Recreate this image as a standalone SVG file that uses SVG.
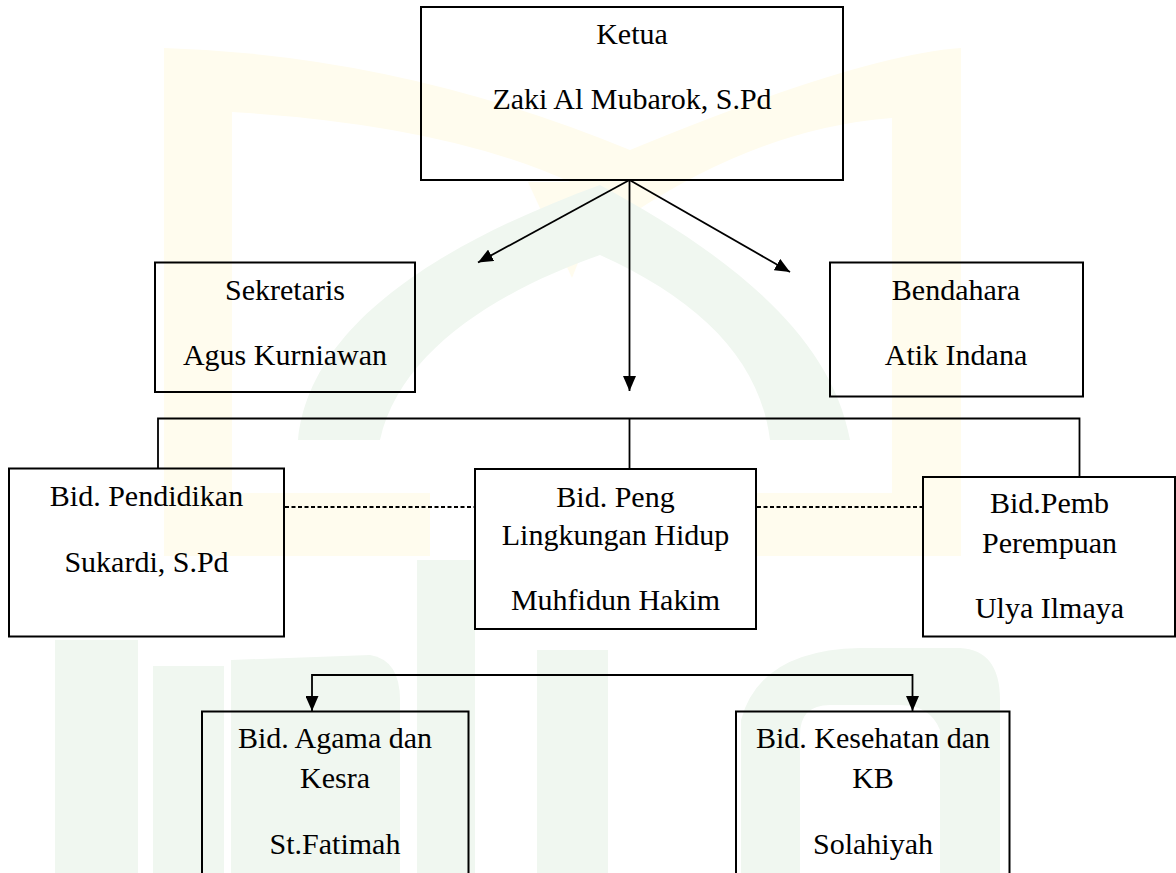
<svg xmlns="http://www.w3.org/2000/svg" width="1176" height="873" viewBox="0 0 1176 873">
  <defs>
    <style>
      .box { fill: none; stroke: #000; stroke-width: 2; }
      .lbl { font-family: "Liberation Serif", "Times New Roman", serif; font-size: 30px; fill: #000; text-anchor: middle; }
      .conn { fill: none; stroke: #000; stroke-width: 1.8; }
      .dot { fill: none; stroke: #000; stroke-width: 1.8; stroke-dasharray: 4 2.5; }
      .wy { fill: #fffcee; }
      .wg { fill: #f0f7f0; }
    </style>
    <marker id="arr" viewBox="0 0 15 13" markerWidth="15" markerHeight="13" refX="15" refY="6.5" orient="auto" markerUnits="userSpaceOnUse">
      <path d="M0,0 L15,6.5 L0,13 Z" fill="#000"/>
    </marker>
  </defs>
  <rect width="1176" height="873" fill="#fff"/>

  <g id="watermark">
    <path class="wy" fill-rule="evenodd" d="M164,48 Q400,55 630,150 Q860,55 961,48 L961,556 L756,556 L756,493 L892,493 L892,118 Q760,128 630,215 Q500,128 232,112 L232,493 L430,493 L430,556 L164,556 Z"/>
    <path class="wy" d="M528,182 L610,182 L572,278 Z"/>
    <path class="wg" fill-rule="evenodd" d="M298,440 C310,320 450,240 600,185 C720,250 830,330 850,440 Z M380,440 C400,350 500,290 600,255 C700,300 760,360 770,440 Z"/>
    <path class="wg" d="M55,640 L138,640 L138,873 L55,873 Z"/>
    <path class="wg" d="M153,666 L224,666 L224,873 L153,873 Z"/>
    <path class="wg" d="M231,660 L370,655 Q400,660 400,700 L400,873 L231,873 Z"/>
    <path class="wg" d="M417,560 L475,560 L475,873 L417,873 Z"/>
    <path class="wg" d="M537,650 L608,650 L608,873 L537,873 Z"/>
    <path class="wg" d="M741,873 L741,720 Q760,650 860,648 L960,648 Q1000,650 1000,700 L1000,873 L940,873 L940,730 Q930,705 900,705 L830,705 Q800,705 800,735 L800,873 Z"/>
  </g>

  <g id="connectors">
    <line class="conn" x1="629.5" y1="180" x2="478" y2="262.5" marker-end="url(#arr)"/>
    <line class="conn" x1="629.5" y1="180" x2="790" y2="272" marker-end="url(#arr)"/>
    <line class="conn" x1="629.5" y1="180" x2="629.5" y2="391" marker-end="url(#arr)"/>
    <path class="conn" d="M158,468.5 L158,418.5 L1079.5,418.5 L1079.5,476.7"/>
    <path class="conn" d="M629.5,418.5 L629.5,469"/>
    <line class="dot" x1="285" y1="507" x2="475" y2="507"/>
    <line class="dot" x1="757" y1="507" x2="923" y2="507"/>
    <path class="conn" d="M612,675 L312,675 L312,711" marker-end="url(#arr)"/>
    <path class="conn" d="M612,675 L912.5,675 L912.5,711" marker-end="url(#arr)"/>
  </g>

  <g id="ketua">
    <rect class="box" x="421" y="7" width="422" height="173"/>
    <text class="lbl" x="632" y="44">Ketua</text>
    <text class="lbl" x="632" y="109">Zaki Al Mubarok, S.Pd</text>
  </g>
  <g id="sekretaris">
    <rect class="box" x="155" y="262.5" width="260" height="129.5"/>
    <text class="lbl" x="285" y="300">Sekretaris</text>
    <text class="lbl" x="285" y="365">Agus Kurniawan</text>
  </g>
  <g id="bendahara">
    <rect class="box" x="830" y="262.5" width="253" height="134"/>
    <text class="lbl" x="956" y="300">Bendahara</text>
    <text class="lbl" x="956" y="365">Atik Indana</text>
  </g>
  <g id="pendidikan">
    <rect class="box" x="9" y="468.5" width="275" height="168"/>
    <text class="lbl" x="146.5" y="506">Bid. Pendidikan</text>
    <text class="lbl" x="146.5" y="572">Sukardi, S.Pd</text>
  </g>
  <g id="lingkungan">
    <rect class="box" x="475" y="469" width="281" height="160"/>
    <text class="lbl" x="615.5" y="507">Bid. Peng</text>
    <text class="lbl" x="615.5" y="545">Lingkungan Hidup</text>
    <text class="lbl" x="615.5" y="610">Muhfidun Hakim</text>
  </g>
  <g id="perempuan">
    <rect class="box" x="923" y="477" width="252" height="159.5"/>
    <text class="lbl" x="1049.5" y="513">Bid.Pemb</text>
    <text class="lbl" x="1049.5" y="553">Perempuan</text>
    <text class="lbl" x="1049.5" y="618">Ulya Ilmaya</text>
  </g>
  <g id="agama">
    <rect class="box" x="202" y="711.5" width="266.5" height="170"/>
    <text class="lbl" x="335" y="748">Bid. Agama dan</text>
    <text class="lbl" x="335" y="788">Kesra</text>
    <text class="lbl" x="335" y="854">St.Fatimah</text>
  </g>
  <g id="kesehatan">
    <rect class="box" x="736" y="711.5" width="273.5" height="170"/>
    <text class="lbl" x="873" y="748">Bid. Kesehatan dan</text>
    <text class="lbl" x="873" y="788">KB</text>
    <text class="lbl" x="873" y="854">Solahiyah</text>
  </g>
</svg>
